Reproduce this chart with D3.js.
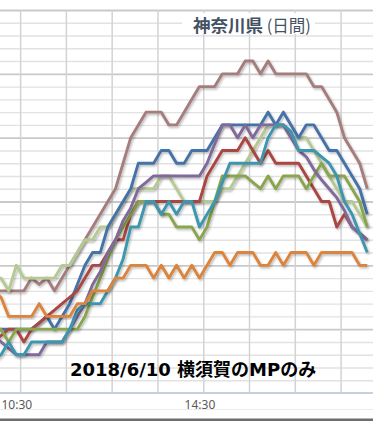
<!DOCTYPE html>
<html>
<head>
<meta charset="utf-8">
<script src="https://cdn.jsdelivr.net/npm/d3@7"></script>
<style>
body { margin: 0; background: #fff; }
svg { display: block; }
</style>
</head>
<body>
<svg width="373" height="422"></svg>
<script>
var titleMain = "神奈川県",
    titleSub = " (日間)",
    note = "2018/6/10 横須賀のMPのみ",
    tickLabels = ["10:30", "14:30"];

var parseTime = d3.timeParse("%H:%M");

// 10 minute categories, 10:00 .. 18:10
var times = d3.range(50).map(function(i) { return d3.timeMinute.offset(parseTime("10:00"), i * 10); });

var brown = [8,8,8,8,8,9,8.5,9,8,9, 10,11,12,13,14,15,16,18,20,21, 22,22,22,21,21,22,23,24,24,24, 25,25,25,26,26,25,26,25,25,25, 25,25,24,24,23,22,20,19,18,16];
var lightGreen = [9,9,8,10,9,9,9,9,9,10, 10,11,12,12,13,13,14,15,16,16, 16,16,17,17,16,15,15,15,15,15, 16,16,17,18,19,20,21,21,21,20, 20,20,19,18,17,16,15,15,14,13];
var blue = [5,5,5,5,5,5,5.5,6,5,6, 7,8.5,10,11,11,13,14,15,16,18, 18,18,19,19,18,18,19,19,19,20, 21,21,21,21,21,21,22,21,22,21, 20,21,21,20,19,19,18,17,16,14];
var red = [4,4.5,5,5,4,5,5.5,6,6.5,7, 7.5,8,9,10,10,11,12,12,14,15, 15,15,15,15,15,15,15,15,17,18, 19,19,19,20,19,18,19,18,18,18, 18,17,16,15,15,13,14,13,12.5,12];
var green = [5,5,4,5,5,5,5,5,5,5, 5,5,6,7.5,9,10.5,12,13,14,15, 15,15,14,14,13,13,13,12,13,15, 17,17,17,17,16.5,16,17,16,17,17, 17,16,17,18,17,17,17,16,15,13];
var purple = [4.5,4,3.5,3,3,3,3,4,4,4, 5,6,7,8.5,9.5,11,12,13.5,14.5,16, 16.5,17,17,17,17,17,17,17,18,19.5, 21,21,20,21,20,21,21,21,21,20, 19,18.5,17.5,16.7,16,15.3,14.3,13,12.5,12];
var aqua = [2.5,3,4,3,3,4,4,4,4,4, 5,6.5,7,7,7,8,9,10.5,13,13, 15,15,14,15,14,15,15,13,14,15, 16.5,18,18,18,18,18,20,21,21,20.5, 19,19,19,18.5,18,17,15,14,12.5,11];
var orange = [8,7.5,6,6,6,6,7,6,6,6, 6,7,7,8,8,8,9,9,10,10, 10,9,10,9,10,9,10,9,10,11, 11,10,11,11,11,10,10,11,10,11, 11,11,10,11,11,11,11,11,10,10];

var series = [
	{id: "brown", color: "#a47d7c", values: brown},
	{id: "lightGreen", color: "#b5ca92", values: lightGreen},
	{id: "blue", color: "#4572a7", values: blue},
	{id: "red", color: "#aa4643", values: red},
	{id: "green", color: "#89a54e", values: green},
	{id: "purple", color: "#80699b", values: purple},
	{id: "aqua", color: "#3d96ae", values: aqua},
	{id: "orange", color: "#db843d", values: orange}
];

var svg = d3.select("svg"),
    width = +svg.attr("width"),
    plotTop = 10,
    plotBottom = 393;

var x = d3.scaleTime()
    .domain([times[0], times[times.length - 1]])
    .range([-6.6, 367.3]);

var y = d3.scaleLinear()
    .domain([0, 30])
    .range([plotBottom, plotTop]);

var defs = svg.append("defs");
defs.append("clipPath").attr("id", "plot")
  .append("rect").attr("x", 0).attr("y", 0).attr("width", width).attr("height", plotBottom);
var shadow = defs.append("filter").attr("id", "shadow")
    .attr("x", "-5%").attr("y", "-5%").attr("width", "110%").attr("height", "110%");
shadow.append("feDropShadow")
    .attr("dx", 1.2).attr("dy", 1.6).attr("stdDeviation", 0.9)
    .attr("flood-color", "#000").attr("flood-opacity", 0.28);

// horizontal gridlines
var gy = svg.append("g")
    .attr("class", "grid grid--y")
    .call(d3.axisLeft(y).tickValues(d3.range(1, 31)).tickSize(-width).tickFormat(""));
gy.select(".domain").remove();
gy.selectAll(".tick line")
    .attr("stroke", function(d) { return d % 5 === 0 ? "#c9c9c9" : "#e2e2e2"; })
    .attr("stroke-width", function(d) { return d % 5 === 0 ? 1.8 : 1.4; });

// vertical gridlines, every hour between categories
var gridTimes = d3.range(8).map(function(n) { return d3.timeMinute.offset(parseTime("10:35"), n * 60); });
var gx = svg.append("g")
    .attr("class", "grid grid--x")
    .attr("transform", "translate(0," + plotBottom + ")")
    .call(d3.axisBottom(x).tickValues(gridTimes).tickSize(-(plotBottom - plotTop)).tickFormat(""));
gx.select(".domain").remove();
gx.selectAll(".tick line").attr("stroke", "#d3d3d3").attr("stroke-width", 1.5);

// title box
svg.append("rect")
    .attr("x", 182).attr("y", 13).attr("width", 133).attr("height", 21)
    .attr("fill", "#fff");
var title = svg.append("text")
    .attr("x", 193).attr("y", 32)
    .style("font-family", "'Noto Sans CJK JP', sans-serif")
    .style("font-size", "17.5px")
    .attr("fill", "#435263");
title.append("tspan").style("font-weight", "bold").text(titleMain);
title.append("tspan").style("font-weight", "normal").style("font-size", "16.5px").text(titleSub);

// lines
var line = d3.line()
    .x(function(d, i) { return x(times[i]); })
    .y(function(d) { return y(d); });

svg.append("g")
    .attr("clip-path", "url(#plot)")
  .selectAll(".station")
  .data(series)
  .enter().append("path")
    .attr("class", "line")
    .attr("d", function(d) { return line(d.values); })
    .attr("fill", "none")
    .attr("stroke", function(d) { return d.color; })
    .attr("stroke-width", 2.9)
    .attr("stroke-linejoin", "round")
    .attr("filter", "url(#shadow)");

// note
svg.append("text")
    .attr("x", 70).attr("y", 375.5)
    .style("font-family", "'DejaVu Sans', 'Noto Sans CJK JP', sans-serif")
    .style("font-size", "18px")
    .style("font-weight", "bold")
    .attr("fill", "#000")
    .text(note);

// x axis
svg.append("line")
    .attr("x1", 0).attr("x2", width)
    .attr("y1", plotBottom).attr("y2", plotBottom)
    .attr("stroke", "#c3d2e2").attr("stroke-width", 2);

var ax = svg.append("g")
    .attr("class", "axis axis--x")
    .attr("transform", "translate(0," + plotBottom + ")")
    .call(d3.axisBottom(x)
        .tickValues(tickLabels.map(parseTime))
        .tickSize(0).tickPadding(7)
        .tickFormat(d3.timeFormat("%H:%M")));
ax.select(".domain").remove();
ax.selectAll("text")
    .style("font-family", "'Noto Sans', sans-serif")
    .style("font-size", "12px")
    .attr("fill", "#595959");

svg.append("line")
    .attr("x1", 0).attr("x2", width)
    .attr("y1", 409.5).attr("y2", 409.5)
    .attr("stroke", "#ececec").attr("stroke-width", 1);
svg.append("rect")
    .attr("x", 0).attr("y", 418.5).attr("width", width).attr("height", 2.5)
    .attr("fill", "#6e6e6e");
</script>
</body>
</html>
